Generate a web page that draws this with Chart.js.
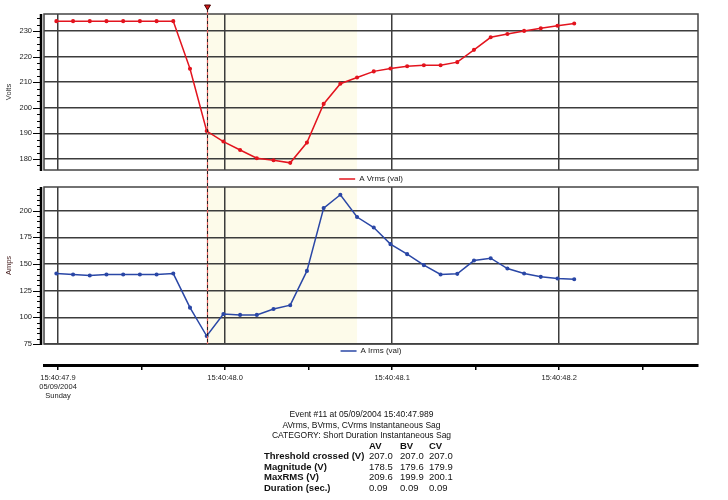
<!DOCTYPE html>
<html>
<head>
<meta charset="utf-8">
<script src="https://cdn.jsdelivr.net/npm/chart.js@4.4.1/dist/chart.umd.min.js"></script>
<style>
  body { margin: 0; background: #fff; font-family: "Liberation Sans", Arial, sans-serif; }
  #wrap { position: relative; width: 728px; height: 500px; overflow: hidden; }
  canvas { position: absolute; left: 0; top: 0; }
  #info { position: absolute; left: 0; top: 409px; width: 723px; font-size: 8.5px; line-height: 10.5px; color: #111; }
  #info .c { text-align: center; }
  #summary { position: absolute; left: 264px; top: 31.5px; border-collapse: collapse; font-size: 9.5px; }
  #summary td { padding: 0; height: 10.5px; line-height: 10.5px; white-space: nowrap; }
  #summary td.lbl, #summary tr.hd td { font-weight: bold; }
</style>
</head>
<body>
<div id="wrap">
  <canvas id="voltChart" width="728" height="195"></canvas>
  <canvas id="ampChart" width="728" height="415"></canvas>
  <div id="info">
    <div class="c">Event #11 at 05/09/2004 15:40:47.989</div>
    <div class="c">AVrms, BVrms, CVrms Instantaneous Sag</div>
    <div class="c">CATEGORY: Short Duration Instantaneous Sag</div>
    <table id="summary"></table>
  </div>
</div>
<script>
// sample times, ms after 15:40:47
const times = [899, 909, 919, 929, 939, 949, 959, 969, 979, 989, 999, 1009, 1019, 1029, 1039, 1049,
  1059, 1069, 1079, 1089, 1099, 1109, 1119, 1129, 1139, 1149, 1159, 1169, 1179, 1189, 1199, 1209];
const voltsA = [233.8, 233.8, 233.8, 233.8, 233.8, 233.8, 233.8, 233.8, 215.2, 190.9, 186.8, 183.5,
  180.3, 179.5, 178.5, 186.4, 201.5, 209.4, 211.8, 214.2, 215.3, 216.2, 216.6, 216.6,
  217.8, 222.6, 227.5, 228.8, 230.0, 231.0, 232.0, 232.9];
const ampsA = [141.1, 140.2, 139.2, 140.2, 140.2, 140.2, 140.2, 141.1, 109.1, 82.5, 103.2, 102.3,
  102.3, 107.9, 111.4, 143.6, 202.5, 215.0, 194.1, 184.3, 168.7, 159.3, 149.0, 140.2,
  140.8, 153.3, 155.5, 145.8, 141.1, 138.0, 136.4, 135.8];

const timeTicks = [900, 950, 1000, 1050, 1100, 1150, 1200, 1250];
const timeLabels = [['15:40:47.9', '05/09/2004', 'Sunday'], '', '15:40:48.0', '', '15:40:48.1', '', '15:40:48.2', ''];
const timeRange = [891.6, 1283.1];
const voltRange = [175.7, 236.6];
const ampRange = [75, 222.3];

// trigger at 15:40:47.989, duration 0.09 s
const sagStart = 989;
const sagEnd = 1079;

const summaryHead = ['', 'AV', 'BV', 'CV'];
const summaryRows = ['Threshold crossed (V)', 'Magnitude (V)', 'MaxRMS (V)', 'Duration (sec.)'];
const summaryAV = ['207.0', '178.5', '209.6', '0.09'];
const summaryBV = ['207.0', '179.6', '199.9', '0.09'];
const summaryCV = ['207.0', '179.9', '200.1', '0.09'];

const GRID = '#3c3c3c';
const NONE = 'rgba(0,0,0,0)';
const FONT = 'Liberation Sans';

// summary table under the chart
const tbl = document.getElementById('summary');
const widths = [105, 31, 29, 30];
let html = '<tr class="hd">' + summaryHead.map((h, i) => `<td style="width:${widths[i]}px">${h}</td>`).join('') + '</tr>';
summaryRows.forEach((r, i) => {
  html += `<tr><td class="lbl">${r}</td><td>${summaryAV[i]}</td><td>${summaryBV[i]}</td><td>${summaryCV[i]}</td></tr>`;
});
tbl.innerHTML = html;

function xScale(showTicks) {
  return {
    type: 'linear',
    min: timeRange[0],
    max: timeRange[1],
    weight: 2000,
    afterBuildTicks: s => { s.ticks = timeTicks.map(v => ({ value: v })); },
    afterFit: s => { s.height = showTicks ? 45 : 0; },
    grid: {
      color: c => (c.tick && timeLabels[timeTicks.indexOf(c.tick.value)] !== '') ? GRID : NONE,
      lineWidth: 1.5,
      drawTicks: showTicks,
      tickColor: '#000',
      tickWidth: 1.5,
      tickLength: 5
    },
    border: { display: showTicks, width: 3, color: '#000' },
    ticks: {
      display: showTicks,
      autoSkip: false,
      maxRotation: 0,
      padding: 3,
      color: '#222',
      font: { family: FONT, size: 7.5 },
      callback: (v, i) => timeLabels[i]
    }
  };
}

function yScale(range, step, every, title, titleColor) {
  return {
    min: range[0],
    max: range[1],
    afterFit: s => { s.width = 44; s.paddingTop = 0; s.paddingBottom = 0; },
    afterBuildTicks: s => { s.ticks = s.ticks.filter(t => t.value >= s.min && t.value <= s.max); },
    grid: {
      color: c => (c.tick && c.tick.value % every === 0) ? GRID : NONE,
      lineWidth: 1.5,
      drawTicks: false
    },
    border: { display: false },
    ticks: {
      stepSize: step,
      maxTicksLimit: 100,
      includeBounds: false,
      autoSkip: false,
      padding: 12,
      color: '#222',
      font: { family: FONT, size: 7.5 },
      callback: v => (v % every === 0 ? v : '')
    },
    title: { display: true, text: title, color: titleColor, font: { family: FONT, size: 7.5 }, padding: { top: 4, bottom: 0 } }
  };
}

function legendOpts(pad) {
  return {
    position: 'bottom',
    fullSize: false,
    labels: {
      usePointStyle: true,
      pointStyle: 'line',
      pointStyleWidth: 16,
      padding: pad,
      color: '#222',
      font: { family: FONT, size: 8 }
    }
  };
}

// pale band for the sag duration, under the grid
const sagShade = {
  id: 'sagShade',
  beforeDraw(chart) {
    const { ctx, chartArea: a, scales: { x } } = chart;
    const x1 = x.getPixelForValue(sagStart);
    const x2 = x.getPixelForValue(sagEnd);
    ctx.save();
    ctx.fillStyle = '#fdfbea';
    ctx.fillRect(x1, a.top, x2 - x1, a.bottom - a.top);
    ctx.restore();
  }
};

// plot frame, thick y axis line and its major/minor ticks
const frame = {
  id: 'frame',
  afterDraw(chart) {
    const { ctx, chartArea: a, scales: { y } } = chart;
    ctx.save();
    ctx.strokeStyle = '#444';
    ctx.lineWidth = 1.5;
    ctx.strokeRect(a.left, a.top, a.right - a.left, a.bottom - a.top);
    ctx.strokeStyle = '#000';
    ctx.lineWidth = 1;
    y.ticks.forEach(t => {
      const py = Math.round(y.getPixelForValue(t.value)) + 0.5;
      ctx.beginPath();
      ctx.moveTo(a.left - (t.label !== '' ? 11 : 7), py);
      ctx.lineTo(a.left - 3, py);
      ctx.stroke();
    });
    ctx.lineWidth = 2.5;
    ctx.beginPath();
    ctx.moveTo(a.left - 3, a.top);
    ctx.lineTo(a.left - 3, a.bottom + 1);
    ctx.stroke();
    ctx.restore();
  }
};

// trigger marker: dashed line through both panels + triangle on top
const trigger = {
  id: 'trigger',
  afterDraw(chart) {
    const { ctx, chartArea: a, scales: { x } } = chart;
    const px = Math.round(x.getPixelForValue(sagStart)) + 0.5;
    ctx.save();
    ctx.strokeStyle = '#e05a5a';
    ctx.lineWidth = 1.2;
    ctx.beginPath();
    ctx.moveTo(px, 9);
    ctx.lineTo(px, a.bottom);
    ctx.stroke();
    ctx.strokeStyle = '#222';
    ctx.lineWidth = 1;
    ctx.setLineDash([3, 3]);
    ctx.beginPath();
    ctx.moveTo(px, 9);
    ctx.lineTo(px, a.bottom);
    ctx.stroke();
    ctx.setLineDash([]);
    ctx.fillStyle = '#d01818';
    ctx.strokeStyle = '#400';
    ctx.lineWidth = 1;
    ctx.beginPath();
    ctx.moveTo(px - 3, 5);
    ctx.lineTo(px + 3, 5);
    ctx.lineTo(px, 10);
    ctx.closePath();
    ctx.fill();
    ctx.stroke();
    ctx.restore();
  }
};

new Chart(document.getElementById('voltChart'), {
  type: 'line',
  data: {
    datasets: [{
      label: 'A Vrms (val)',
      data: times.map((t, i) => ({ x: t, y: voltsA[i] })),
      borderColor: '#e3141e',
      backgroundColor: '#e3141e',
      borderWidth: 1.5,
      pointRadius: 1.3,
      tension: 0
    }]
  },
  options: {
    responsive: false,
    animation: false,
    layout: { padding: { top: 14, right: 30, bottom: 2, left: 0 } },
    scales: {
      x: xScale(false),
      y: yScale(voltRange, 2.5, 10, 'Volts', '#333')
    },
    plugins: { legend: legendOpts(5), tooltip: { enabled: false } }
  },
  plugins: [sagShade, frame]
});

new Chart(document.getElementById('ampChart'), {
  type: 'line',
  data: {
    datasets: [{
      label: 'A Irms (val)',
      data: times.map((t, i) => ({ x: t, y: ampsA[i] })),
      borderColor: '#2a47a6',
      backgroundColor: '#2a47a6',
      borderWidth: 1.5,
      pointRadius: 1.3,
      tension: 0
    }]
  },
  options: {
    responsive: false,
    animation: false,
    layout: { padding: { top: 187, right: 30, bottom: 5, left: 0 } },
    scales: {
      x: xScale(true),
      y: yScale(ampRange, 5, 25, 'Amps', '#4a2424')
    },
    plugins: { legend: legendOpts(3), tooltip: { enabled: false } }
  },
  plugins: [sagShade, frame, trigger]
});
</script>
</body>
</html>
